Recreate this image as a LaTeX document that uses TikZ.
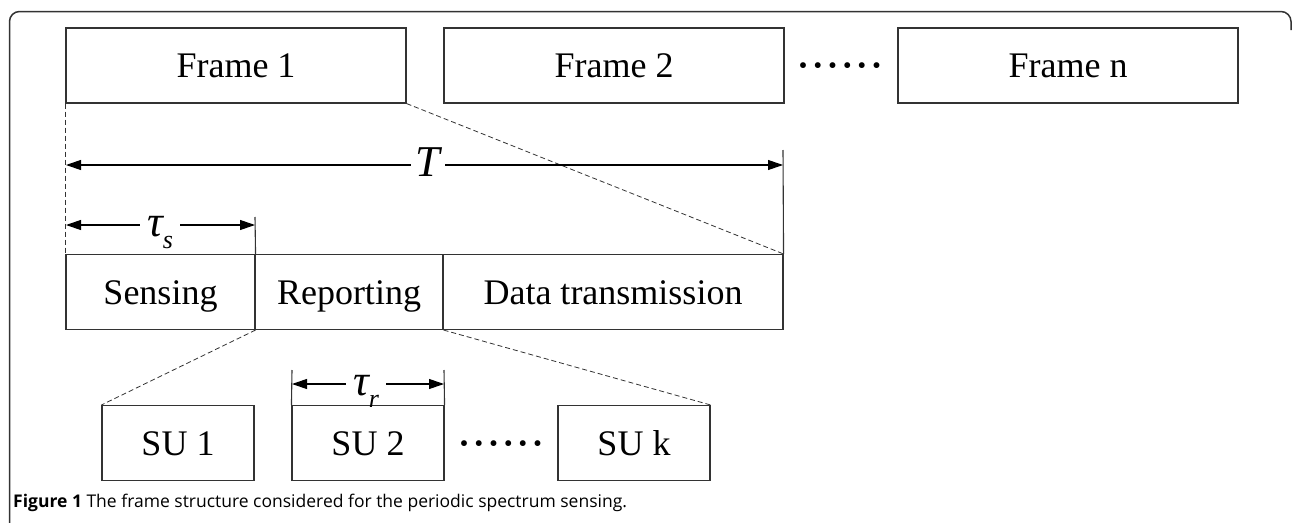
\documentclass[tikz,border=0pt]{standalone}
\usepackage{fontspec}
\setmainfont{Liberation Serif}
\newfontfamily\capfont{Open Sans}
\usetikzlibrary{arrows.meta}
\newcommand\rowdots{\textbf{·\kern2.7pt·\kern2.7pt·\kern2.7pt·\kern2.7pt·\kern2.7pt·}}
\begin{document}
\begin{tikzpicture}[x=1pt,y=-1pt,
  box/.style={draw=black!80,line width=1.1pt,minimum height=75pt,inner sep=0pt,
    text height=24pt,text depth=0pt,font=\fontsize{36}{40}\selectfont},
  dotsnode/.style={inner sep=0pt,text height=24pt,text depth=0pt,font=\fontsize{36}{40}\selectfont},
  dashln/.style={draw=black!80,line width=0.8pt,dash pattern=on 5pt off 3pt},
  tickln/.style={draw=black!80,line width=1.1pt},
  dimarrow/.style={draw=black,line width=1.1pt,{Triangle[length=15pt,width=10pt]}-{Triangle[length=15pt,width=10pt]}},
  lab/.style={fill=white,inner xsep=7pt,inner ysep=1pt,anchor=base},
  frameline/.style={draw=black!80,line width=1.5pt,rounded corners=10pt}
]
\useasboundingbox (0,0) rectangle (1292,522);
% outer frame
\draw[frameline] (9.5,530) -- (9.5,11.5) -- (1291,11.5) -- (1291,30);
% top frames
\node[box,minimum width=340pt] (f1) at (236,65.5) {Frame 1};
\node[box,minimum width=340pt] (f2) at (614,65.5) {Frame 2};
\node[dotsnode] (fdots) at (840,65.5) {\rowdots};
\node[box,minimum width=340pt] (fn) at (1068,65.5) {Frame n};
% middle row
\node[box,minimum width=189pt] (sens) at (160.5,292) {Sensing};
\node[box,minimum width=188pt] (rep) at (349,292) {Reporting};
\node[box,minimum width=340pt] (data) at (613,292) {Data transmission};
% dashed zoom lines
\draw[dashln] (f1.south west) -- (sens.north west);
\draw[dashln] (f1.south east) -- (data.north east);
% T dimension
\coordinate (tTop) at (783,150);
\coordinate (tL) at (66,165);
\coordinate (tR) at (783,165);
\draw[tickln] (data.north east) -- (tTop);
\draw[dimarrow] (tL) -- (tR);
\node[lab,inner xsep=5pt,font=\fontsize{44}{44}\selectfont\itshape] (tlab) at (428,176) {T};
% tau_s dimension
\coordinate (sTop) at (255,217);
\coordinate (sL) at (66,225);
\coordinate (sR) at (255,225);
\draw[tickln] (sens.north east) -- (sTop);
\draw[dimarrow] (sL) -- (sR);
\node[lab] (slab) at (160,236) {\fontsize{44}{44}\selectfont\itshape τ\raisebox{-12pt}[0pt][0pt]{\fontsize{26}{26}\selectfont s}};
% bottom row
\node[box,minimum width=152pt,minimum height=75pt] (su1) at (178,443) {SU 1};
\node[box,minimum width=152pt] (su2) at (368,443) {SU 2};
\node[dotsnode] (sdots) at (501,443) {\rowdots};
\node[box,minimum width=152pt] (suk) at (634,443) {SU k};
\draw[dashln] (sens.south east) -- (su1.north west);
\draw[dashln] (rep.south east) -- (suk.north east);
% tau_r dimension
\coordinate (rTopL) at (292,370);
\coordinate (rTopR) at (444,370);
\coordinate (rL) at (292,384);
\coordinate (rR) at (444,384);
\draw[tickln] (su2.north west) -- (rTopL);
\draw[tickln] (su2.north east) -- (rTopR);
\draw[dimarrow] (rL) -- (rR);
\node[lab] (rlab) at (366,395) {\fontsize{44}{44}\selectfont\itshape τ\raisebox{-12pt}[0pt][0pt]{\fontsize{26}{26}\selectfont r}};
% caption
\node[anchor=base west,inner sep=0pt,font=\capfont\fontsize{17.5}{20}\selectfont] (cap) at (13,507)
  {\textbf{Figure 1} The frame structure considered for the periodic spectrum sensing.};
\end{tikzpicture}
\end{document}
